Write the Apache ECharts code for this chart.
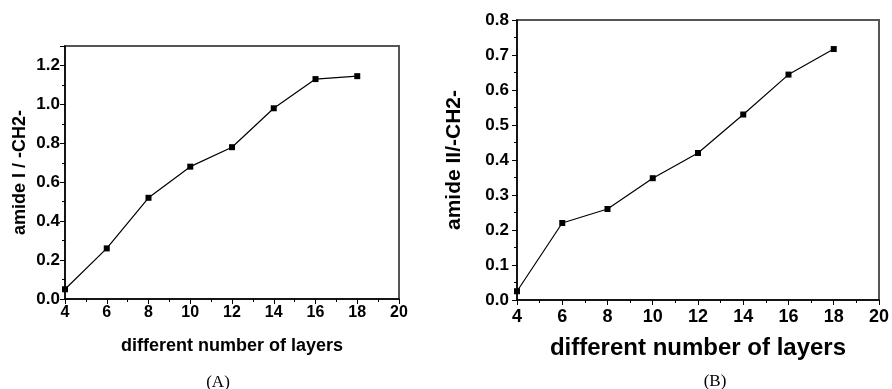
<!DOCTYPE html>
<html>
<head>
<meta charset="utf-8">
<style>
  html, body { margin: 0; padding: 0; background: #fff; }
  #chart { width: 892px; height: 389px; }
</style>
<script src="https://cdn.jsdelivr.net/npm/echarts@6/dist/echarts.min.js"></script>
</head>
<body>
<div id="chart"></div>
<script>
// Number of deposited layers (shared x values)
const layers = [4, 6, 8, 10, 12, 14, 16, 18];
// Panel A: amide I / -CH2- intensity ratio
const amideI = [0.05, 0.26, 0.52, 0.68, 0.78, 0.98, 1.13, 1.145];
// Panel B: amide II / -CH2- intensity ratio
const amideII = [0.025, 0.22, 0.26, 0.348, 0.42, 0.53, 0.644, 0.717];

const xTitle = 'different number of layers';
const yTitleA = 'amide I / -CH2-';
const yTitleB = 'amide II/-CH2-';
const panelA = '(A)';
const panelB = '(B)';

const sans = '"Liberation Sans", Arial, sans-serif';
const serif = '"Liberation Serif", "Times New Roman", serif';

function pairs(xs, ys) {
  return xs.map((x, i) => [x, ys[i]]);
}

function xAxisFor(gridIndex, labelSize, nameSize, nameGap, margin) {
  return {
    type: 'value', gridIndex, min: 4, max: 20, interval: 2,
    name: xTitle, nameLocation: 'middle', nameGap,
    nameTextStyle: { fontFamily: sans, fontWeight: 'bold', fontSize: nameSize, color: '#000' },
    axisLine: { show: true, onZero: false, lineStyle: { color: '#000', width: 1.5 } },
    axisTick: { show: true, inside: false, length: 5, lineStyle: { color: '#000', width: 1 } },
    minorTick: { show: true, splitNumber: 2, length: 3, lineStyle: { color: '#000', width: 1 } },
    axisLabel: { fontFamily: sans, fontWeight: 'bold', fontSize: labelSize, color: '#000', margin },
    splitLine: { show: false }
  };
}

function yAxisFor(gridIndex, max, interval, name, labelSize, nameSize, nameGap, margin, showMax) {
  return {
    type: 'value', gridIndex, min: 0, max, interval,
    name, nameLocation: 'middle', nameGap,
    nameTextStyle: { fontFamily: sans, fontWeight: 'bold', fontSize: nameSize, color: '#000' },
    axisLine: { show: true, onZero: false, lineStyle: { color: '#000', width: 1.5 } },
    axisTick: { show: true, inside: false, length: 5, lineStyle: { color: '#000', width: 1 } },
    minorTick: { show: true, splitNumber: 2, length: 3, lineStyle: { color: '#000', width: 1 } },
    axisLabel: {
      fontFamily: sans, fontWeight: 'bold', fontSize: labelSize, color: '#000', margin,
      showMaxLabel: showMax,
      formatter: v => v.toFixed(1)
    },
    splitLine: { show: false }
  };
}

function lineSeries(idx, data) {
  return {
    type: 'line', xAxisIndex: idx, yAxisIndex: idx, data,
    symbol: 'rect', symbolSize: 6,
    lineStyle: { color: '#000', width: 1.2 },
    itemStyle: { color: '#000' },
    animation: false
  };
}

const chart = echarts.init(document.getElementById('chart'), null, { renderer: 'canvas' });
chart.setOption({
  backgroundColor: '#fff',
  animation: false,
  grid: [
    { left: 65, right: 493, top: 46, bottom: 90, show: true, borderColor: '#555', borderWidth: 2, backgroundColor: 'transparent' },
    { left: 517, right: 11, top: 20, bottom: 89, show: true, borderColor: '#555', borderWidth: 2, backgroundColor: 'transparent' }
  ],
  title: [
    { text: panelA, left: 213, top: 369, textAlign: 'center',
      textStyle: { fontFamily: serif, fontWeight: 'normal', fontSize: 17, color: '#000' } },
    { text: panelB, left: 710, top: 368, textAlign: 'center',
      textStyle: { fontFamily: serif, fontWeight: 'normal', fontSize: 17, color: '#000' } }
  ],
  xAxis: [
    xAxisFor(0, 16, 18, 38, 6),
    xAxisFor(1, 18, 24, 36, 8)
  ],
  yAxis: [
    yAxisFor(0, 1.3, 0.2, yTitleA, 17, 18, 36, 5, false),
    yAxisFor(1, 0.8, 0.1, yTitleB, 17, 21, 52, 8, true)
  ],
  series: [
    lineSeries(0, pairs(layers, amideI)),
    lineSeries(1, pairs(layers, amideII))
  ]
});
</script>
</body>
</html>
